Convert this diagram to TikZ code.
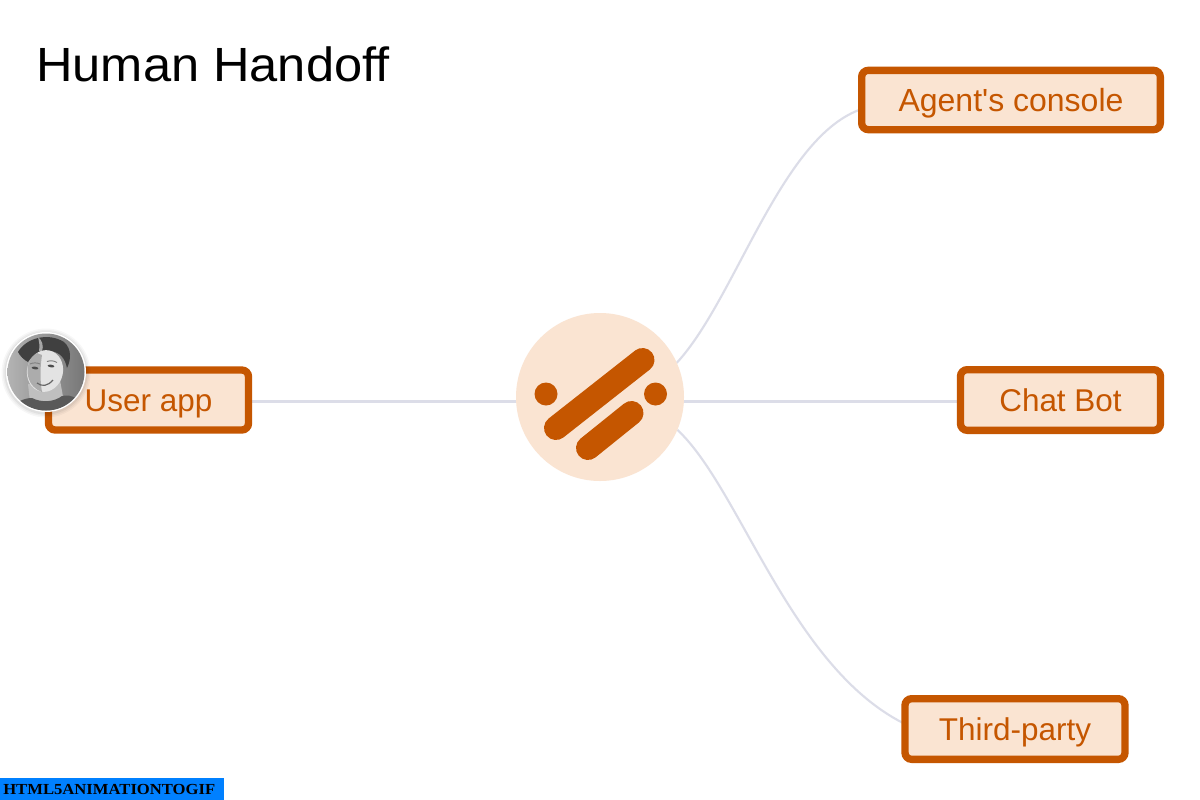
\documentclass[tikz,border=0pt]{standalone}
\usepackage{fontspec}
\setmainfont{Liberation Sans}
\newfontfamily\labelfont{Liberation Sans}
\newfontfamily\titlefont{Liberation Sans}[FakeStretch=1.054]
\newfontfamily\wmfont{Liberation Serif}[FakeStretch=1.085]
\usetikzlibrary{calc,backgrounds}
\definecolor{rust}{HTML}{C55600}
\definecolor{peach}{HTML}{FAE4D2}
\definecolor{linkgrey}{HTML}{DCDDE8}
\definecolor{wmblue}{HTML}{0080FF}
\tikzset{
  px/.style={x=0.75pt,y=-0.75pt},
  boxshape/.style={draw=rust,line width=5.5pt,fill=peach,rounded corners=5pt,inner sep=0pt,outer sep=0pt,anchor=center},
  boxtext/.style={text=rust,inner sep=0pt,anchor=base,font=\labelfont\fontsize{23.6pt}{28pt}\selectfont},
  link/.style={draw=linkgrey,line width=1.6pt},
  thicklink/.style={draw=linkgrey,line width=2.1pt},
  pill/.style={draw=rust,line cap=round,line width=18pt},
}
\begin{document}
\begin{tikzpicture}[px]
\useasboundingbox (0,0) rectangle (1200,800);
\node[anchor=base west,inner sep=0pt,font=\titlefont\fontsize{36pt}{40pt}\selectfont] (title) at (36,81) {Human Handoff};
\node[circle,fill=peach,minimum size=126pt,inner sep=0pt,outer sep=0pt] (hub) at (600,397) {};
\node[boxshape,minimum width=150pt,minimum height=45pt] (user) at (148.5,400) {};
\node[boxshape,minimum width=224pt,minimum height=44.5pt] (agent) at (1011,100) {};
\node[boxshape,minimum width=150pt,minimum height=45.5pt] (bot) at (1060.5,400) {};
\node[boxshape,minimum width=165pt,minimum height=45.5pt] (third) at (1015,729) {};
\node[boxtext] (usert) at (148.5,411) {User app};
\node[boxtext,font=\labelfont\fontsize{24pt}{28pt}\selectfont] (agentt) at (1011,111) {Agent's console};
\node[boxtext] (bott) at (1060.5,411) {Chat Bot};
\node[boxtext] (thirdt) at (1015,740) {Third-party};
\coordinate (agentin) at (859,110);
\coordinate (thirdin) at (903,723);
\begin{scope}[on background layer]
\fill[white] (0,0) rectangle (1200,800);
\draw[thicklink] (hub.183) -- (hub.183 -| user.east);
\draw[thicklink] (hub.-3) -- (hub.-3 -| bot.west);
\draw[link] (hub.24) .. controls (735,300) and (780,140) .. (agentin);
\draw[link] (hub.-23) .. controls (740,488) and (790,665) .. (thirdin);
\end{scope}
\draw[pill] (556,428) -- (642.5,360);
\draw[pill] (588,448) -- (631.5,413);
\fill[rust] (546,394) circle (11.5);
\fill[rust] (655.5,394) circle (11.5);
% avatar
\foreach \r/\o in {44.5/.03,43/.04,41.5/.05}{\fill[black,opacity=\o] (46,373) circle (\r);}
\fill[white] (46,372) circle (40);
\begin{scope}
\clip (46,372) circle (38.5);
\shade[left color=gray!55,right color=gray!90!black] (0,330) rectangle (90,415);
% hair
\fill[black!75] (18,352) .. controls (26,338) and (48,332) .. (64,342)
  .. controls (72,349) and (71,360) .. (67,368)
  .. controls (65,358) and (60,352) .. (50,351)
  .. controls (40,350) and (33,354) .. (28,362)
  .. controls (24,360) and (20,356) .. (18,352) -- cycle;
\fill[gray!70] (38,337) .. controls (42,340) and (44,346) .. (42,351) -- (39,351) .. controls (40,346) and (39,341) .. (38,337) -- cycle;
% neck and shirt
\fill[gray!50] (28,384) -- (60,380) -- (64,402) -- (30,402) -- cycle;
\fill[black!65] (6,414) .. controls (14,402) and (24,398) .. (32,398)
  .. controls (42,403) and (54,402) .. (62,396)
  .. controls (72,394) and (80,398) .. (88,414) -- cycle;
% face
\fill[gray!22,rotate around={-12:(45,371)}] (45,371) ellipse (18 and 21);
\fill[black!50,opacity=.55] (37,353) .. controls (30,357) and (26,366) .. (28,376)
  .. controls (30,385) and (36,390) .. (42,392)
  .. controls (40,380) and (40,368) .. (42,355) -- cycle;
% features
\fill[black!70,rotate around={-8:(35,368)}] (35,368) ellipse (3.4 and 1.3);
\fill[black!70,rotate around={-8:(51,366)}] (51,366) ellipse (3.4 and 1.3);
\draw[black!50,line width=.7pt] (30,364) .. controls (33,362.5) and (37,362.5) .. (40,364);
\draw[black!50,line width=.7pt] (47,361.5) .. controls (50,360.5) and (54,360.5) .. (57,362.5);
\draw[black!60,line width=.9pt] (37,383) .. controls (42,387) and (48,386) .. (53,380);
\end{scope}
\fill[wmblue] (0,778) rectangle (224,800);
\node[anchor=base west,inner sep=0pt,font=\wmfont\bfseries\fontsize{11.5pt}{13pt}\selectfont] (wm) at (3,794) {HTML5ANIMATIONTOGIF};
\end{tikzpicture}
\end{document}
